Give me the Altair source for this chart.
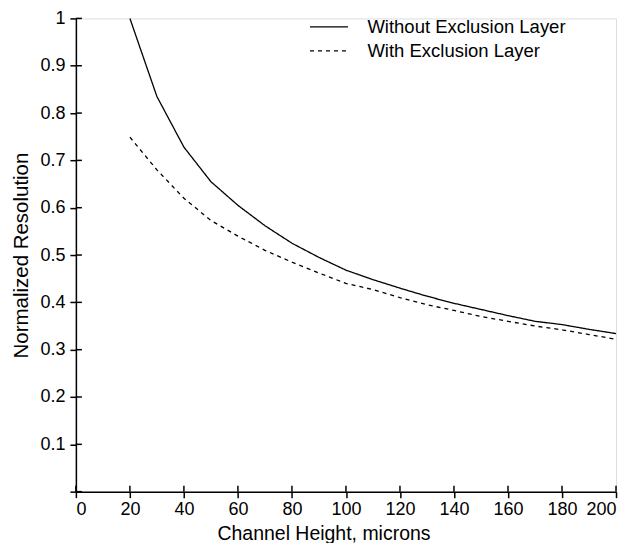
import altair as alt
import pandas as pd

heights = [20, 30, 40, 50, 60, 70, 80, 90, 100, 110, 120, 130, 140, 150, 160, 170, 180, 190, 200]
without_layer = [1.0, 0.835, 0.728, 0.655, 0.605, 0.562, 0.525, 0.495, 0.468, 0.448, 0.43, 0.413, 0.398, 0.385, 0.372, 0.36, 0.353, 0.343, 0.334]
with_layer = [0.749, 0.68, 0.62, 0.573, 0.54, 0.51, 0.485, 0.462, 0.44, 0.427, 0.41, 0.395, 0.383, 0.37, 0.36, 0.35, 0.342, 0.332, 0.322]
series_names = ["Without Exclusion Layer", "With Exclusion Layer"]
x_ticks = [0, 20, 40, 60, 80, 100, 120, 140, 160, 180, 200]
y_ticks = [0, 0.1, 0.2, 0.3, 0.4, 0.5, 0.6, 0.7, 0.8, 0.9, 1.0]

rows = []
for h, a, b in zip(heights, without_layer, with_layer):
    rows.append({"h": h, "v": a, "series": series_names[0]})
    rows.append({"h": h, "v": b, "series": series_names[1]})
df = pd.DataFrame(rows)

W, H = 541, 474
FONT = "Liberation Sans"

xscale = alt.Scale(domain=[0, 200], nice=False, zero=False)
yscale = alt.Scale(domain=[0, 1], nice=False)

xaxis = alt.Axis(values=x_ticks, title="Channel Height, microns", grid=False,
                 domainColor="black", domainWidth=1.5, tickColor="black", tickWidth=1.5,
                 tickSize=6, labelFontSize=18, labelColor="black", labelPadding=3,
                 labelFont=FONT, titleFont=FONT, titleFontSize=19.5, titleFontWeight="normal",
                 titleColor="black", titleX=248, titleY=48, titleBaseline="alphabetic",
                 titleAlign="center", titleAnchor="start")
yaxis = alt.Axis(values=y_ticks, title="Normalized Resolution", grid=False,
                 domainColor="black", domainWidth=1.5, tickColor="black", tickWidth=1.5,
                 tickSize=6, labelFontSize=18, labelColor="black", labelPadding=5,
                 labelExpr="datum.value == 0 ? '' : format(datum.value, '~g')",
                 labelFont=FONT, titleFont=FONT, titleFontSize=20.5, titleFontWeight="normal",
                 titleColor="black", titlePadding=8)

lines = alt.Chart(df).mark_line(color="black", strokeWidth=1.3).encode(
    x=alt.X("h:Q", scale=xscale, axis=xaxis),
    y=alt.Y("v:Q", scale=yscale, axis=yaxis),
    strokeDash=alt.StrokeDash(
        "series:N",
        scale=alt.Scale(domain=series_names, range=[[1, 0], [4, 4]]),
        legend=alt.Legend(title=None, orient="none", legendX=243, legendY=-2,
                          symbolType="M-2,0H2", symbolSize=361, symbolStrokeWidth=1.3,
                          symbolStrokeColor="black", symbolFillColor="transparent",
                          labelFontSize=18.5, labelFont=FONT,
                          labelColor="black", labelOffset=28, labelLimit=400,
                          padding=0, rowPadding=4),
    ),
    detail="series:N",
)

ydf = pd.DataFrame({"v": y_ticks})
xdf = pd.DataFrame({"h": x_ticks})

ytick_in = alt.Chart(ydf).mark_rule(color="black", strokeWidth=1.5).encode(
    y=alt.Y("v:Q", scale=yscale),
    x=alt.value(0), x2=alt.value(6),
)
xtick_in = alt.Chart(xdf).mark_rule(color="black", strokeWidth=1.5).encode(
    x=alt.X("h:Q", scale=xscale),
    y=alt.value(H - 6), y2=alt.value(H),
)

chart = alt.layer(lines, ytick_in, xtick_in).properties(
    width=W, height=H,
    autosize=alt.AutoSizeParams(type="none"),
    padding={"left": 68, "top": 10, "right": 8, "bottom": 51},
).configure_view(stroke=None).configure(background="white")

chart.save("out.html", embed_options={"renderer": "svg", "actions": False})
